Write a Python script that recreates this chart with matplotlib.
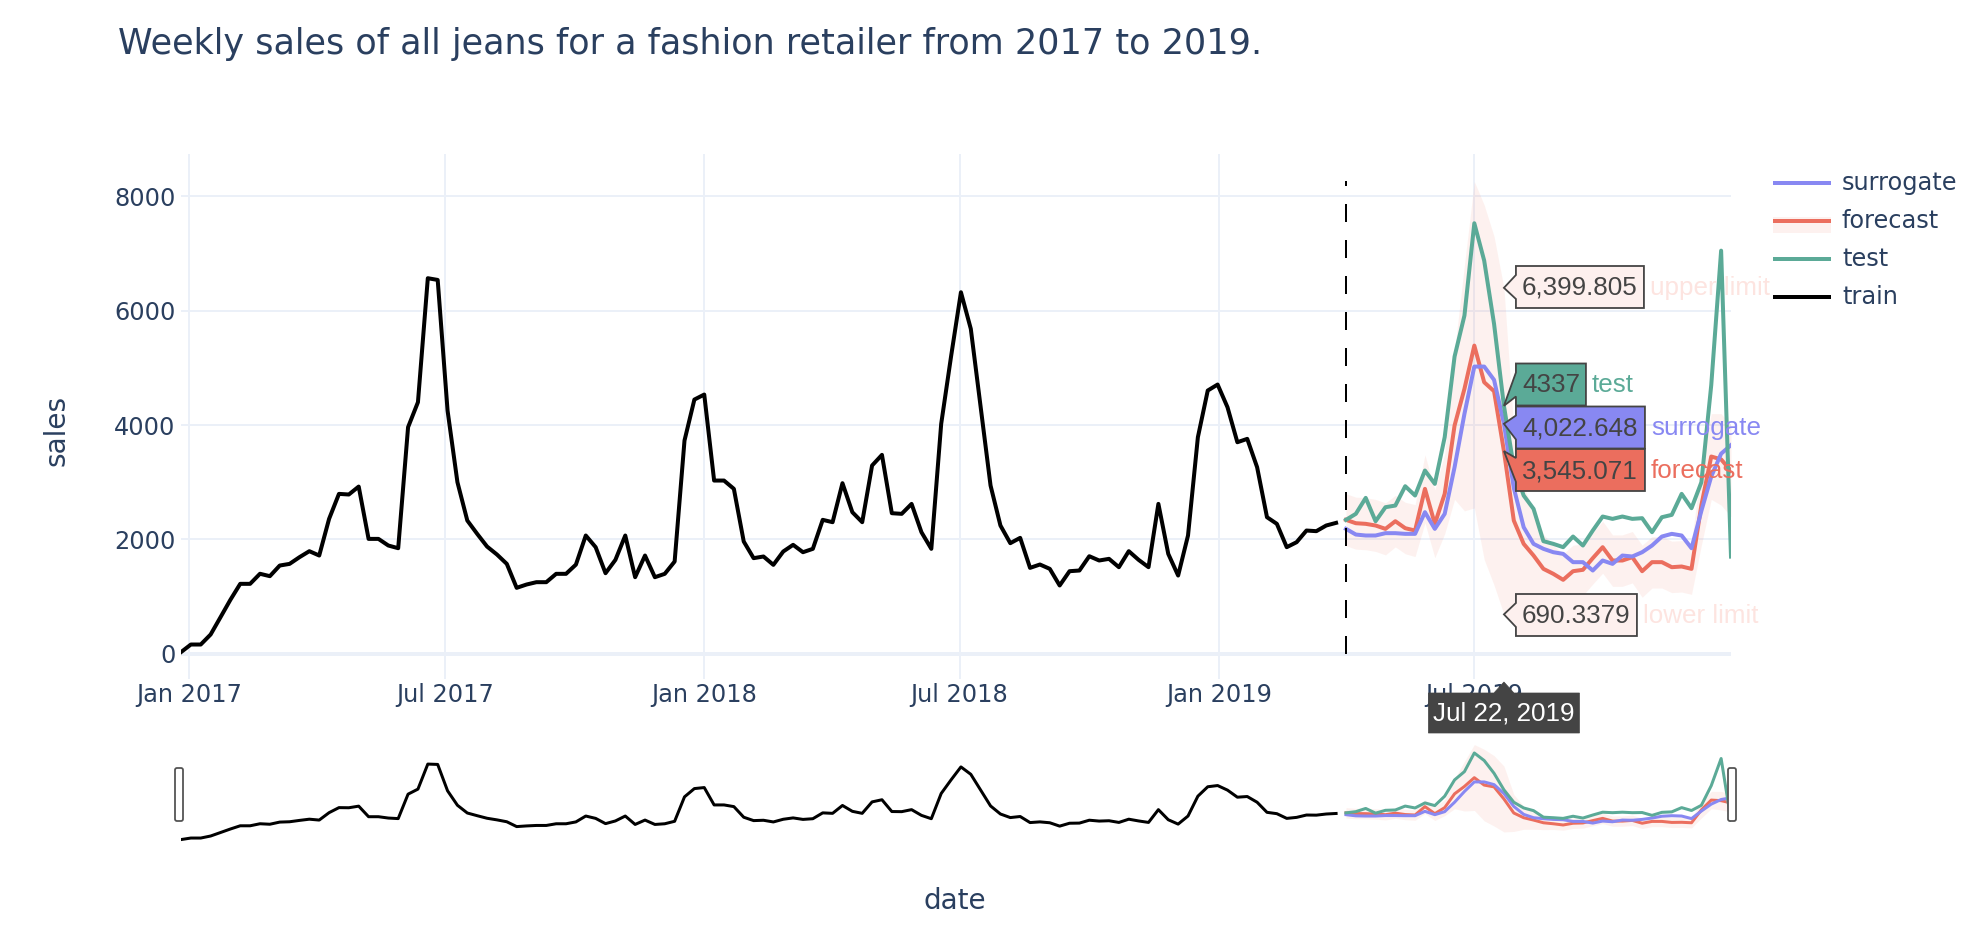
import numpy as np
import pandas as pd
import matplotlib
matplotlib.use('Agg')
import matplotlib.pyplot as plt
import matplotlib.dates as mdates
from matplotlib.patches import Polygon, Rectangle, FancyBboxPatch

plt.rcParams['font.family'] = ['DejaVu Sans']

W, H, DPI = 1984, 936, 100

# weekly sales, first week 2016-12-26
train_start = '2016-12-26'
train_sales = [30, 163, 163, 338, 640, 944, 1224, 1224, 1400, 1358,
               1544, 1573, 1690, 1795, 1719, 2360, 2797, 2786, 2925, 2010,
               2010, 1894, 1847, 3963, 4400, 6568, 6538, 4254, 3001, 2331,
               2098, 1876, 1737, 1573, 1154, 1212, 1253, 1253, 1399, 1399,
               1560, 2069, 1865, 1410, 1643, 2069, 1340, 1719, 1340, 1399,
               1614, 3730, 4446, 4534, 3030, 3030, 2885, 1964, 1673, 1702,
               1556, 1789, 1906, 1777, 1836, 2343, 2302, 2984, 2477, 2302,
               3293, 3479, 2459, 2448, 2622, 2127, 1836, 4021, 5200, 6323,
               5682, 4312, 2943, 2244, 1935, 2028, 1503, 1562, 1486, 1195,
               1445, 1457, 1707, 1632, 1661, 1515, 1795, 1643, 1515, 2622,
               1748, 1369, 2069, 3788, 4604, 4709, 4312, 3700, 3759, 3263,
               2389, 2273, 1865, 1952, 2156, 2145, 2244, 2290]

test_sales = [2343, 2448, 2727, 2319, 2564, 2593, 2931, 2768, 3205, 2972,
              3788, 5198, 5915, 7529, 6876, 5769, 4337, 3263, 2768, 2535,
              1970, 1923, 1865, 2051, 1894, 2156, 2401, 2360, 2401, 2360,
              2372, 2127, 2389, 2430, 2797, 2547, 3000, 4700, 7050, 1700]

surrogate = [2185, 2086, 2069, 2069, 2110, 2110, 2098, 2098, 2477, 2185,
             2448, 3263, 4196, 5023, 5023, 4790, 4022.648, 2900, 2214, 1923,
             1836, 1777, 1748, 1603, 1603, 1457, 1632, 1573, 1719, 1702,
             1777, 1894, 2051, 2098, 2069, 1847, 2500, 3100, 3500, 3650]

forecast = [2343, 2284, 2273, 2244, 2185, 2319, 2197, 2156, 2885, 2273,
            2797, 3992, 4633, 5390, 4749, 4592, 3545.071, 2331, 1923, 1719,
            1486, 1399, 1294, 1445, 1469, 1673, 1865, 1632, 1632, 1690,
            1445, 1603, 1603, 1515, 1527, 1486, 2600, 3450, 3400, 3200]

upper_limit = [2800, 2740, 2730, 2700, 2640, 2770, 2650, 2610, 3480, 2870,
               3500, 5300, 6800, 8260, 7850, 7300, 6399.805, 3930, 2920, 2520,
               2090, 1900, 1750, 1900, 1920, 2120, 2320, 2080, 2080, 2140,
               1900, 2050, 2050, 1970, 1980, 1940, 3300, 4200, 4200, 4000]

lower_limit = [1890, 1830, 1820, 1790, 1730, 1870, 1750, 1700, 2290, 1680,
               2100, 2700, 2500, 2550, 1650, 1200, 690.3379, 730, 920, 920,
               890, 900, 840, 990, 1020, 1220, 1410, 1180, 1180, 1240,
               990, 1150, 1150, 1070, 1080, 1040, 1900, 2700, 2600, 2400]

hover_idx = 16  # Jul 22, 2019 in the test period

train_dates = pd.date_range(train_start, periods=len(train_sales), freq='7D')
test_dates = pd.date_range(train_dates[-1] + pd.Timedelta(days=7), periods=len(test_sales), freq='7D')

c_text = '#2a3f5f'
c_grid = '#EBF0F8'
c_train = '#000000'
c_test = '#5BAA97'
c_sur = '#8888F2'
c_fc = '#EB6E5E'
c_fill = (0.937, 0.333, 0.231, 0.08)
c_limit_box = '#FDF0EE'
c_limit_txt = '#FDE4E0'

fig = plt.figure(figsize=(W / DPI, H / DPI), dpi=DPI)


def frame(l, t, r, b):
    return [l / W, 1 - b / H, (r - l) / W, (b - t) / H]


ax = fig.add_axes(frame(181, 154, 1731, 679))
sl = fig.add_axes(frame(181, 739, 1731, 845))
ov = fig.add_axes([0, 0, 1, 1])
ov.set_xlim(0, W)
ov.set_ylim(H, 0)
ov.axis('off')
ov.patch.set_visible(False)

px = 100 / 72  # pixels per point


def draw_series(a, lw):
    a.fill_between(test_dates, lower_limit, upper_limit, color=c_fill, lw=0, zorder=1)
    a.plot(test_dates, forecast, color=c_fc, lw=lw, zorder=2)
    a.plot(test_dates, surrogate, color=c_sur, lw=lw, zorder=3)
    a.plot(test_dates, test_sales, color=c_test, lw=lw, zorder=4)
    a.plot(train_dates, train_sales, color=c_train, lw=lw, zorder=5)
    a.set_xlim(train_dates[0], test_dates[-1])
    a.set_ylim(-440, 8740)


draw_series(ax, 4 / px)
draw_series(sl, 3 / px)
sl.axis('off')

ax.vlines(test_dates[0], 0, max(upper_limit), colors='black', lw=2 / px,
          linestyles=(0, (9, 9)), zorder=6)

for s in ax.spines.values():
    s.set_visible(False)
ax.set_axisbelow(True)
ax.set_yticks([0, 2000, 4000, 6000, 8000])
ax.set_yticklabels(['0', '2000', '4000', '6000', '8000'])
xt = pd.to_datetime(['2017-01-01', '2017-07-01', '2018-01-01', '2018-07-01', '2019-01-01', '2019-07-01'])
ax.set_xticks(xt)
ax.set_xticklabels([d.strftime('%b %Y') for d in xt])
ax.tick_params(length=0, labelsize=24 / px, labelcolor=c_text)
ax.tick_params(axis='y', pad=4)
ax.tick_params(axis='x', pad=3)
ax.grid(True, color=c_grid, lw=2 / px)
ax.axhline(0, color=c_grid, lw=4 / px, zorder=0.5)

# title, axis titles
ov.text(118, 44, 'Weekly sales of all jeans for a fashion retailer from 2017 to 2019.',
        fontsize=35 / px, color=c_text, va='center', ha='left')
ov.text(57, 430, 'sales', fontsize=28 / px, color=c_text, rotation=90, va='center', ha='center')
ov.text(955, 901, 'date', fontsize=28 / px, color=c_text, va='center', ha='center')

# legend
legend_items = [('surrogate', c_sur), ('forecast', c_fc), ('test', c_test), ('train', c_train)]
for n, (name, col) in enumerate(legend_items):
    yy = 183 + 38 * n
    if name == 'forecast':
        ov.add_patch(Rectangle((1773, yy - 4), 58, 16, color=c_fill, lw=0))
    ov.plot([1773, 1831], [yy, yy], color=col, lw=4 / px, solid_capstyle='butt')
    ov.text(1842, yy, name, fontsize=24 / px, color=c_text, va='center', ha='left')

# range slider handles
for hx in (179, 1732):
    ov.add_patch(FancyBboxPatch((hx - 4, 768), 8, 53, boxstyle='round,pad=0,rounding_size=2',
                                fc='white', ec='#555555', lw=1.3))

# hover labels at the hovered week
hdate = test_dates[hover_idx]


def to_px(d, v):
    dx, dy = ax.transData.transform((mdates.date2num(d), v))
    return dx, H - dy


hover_items = [
    (upper_limit[hover_idx], '{:,.3f}', 'upper limit', c_limit_box, c_limit_txt, 287, 128),
    (test_sales[hover_idx], '{:d}', 'test', c_test, c_test, 384.5, 70),
    (surrogate[hover_idx], '{:,.3f}', 'surrogate', c_sur, c_sur, 427.5, 129),
    (forecast[hover_idx], '{:,.3f}', 'forecast', c_fc, c_fc, 470, 129),
    (lower_limit[hover_idx], '{:,.4f}', 'lower limit', c_limit_box, c_limit_txt, 615, 121),
]
hfont = ['Liberation Sans', 'DejaVu Sans']
for val, fmt, name, fc, nc, cy, bw in hover_items:
    tx, ty = to_px(hdate, val)
    bl = tx + 12
    br = bl + bw
    bt, bb = cy - 21, cy + 21
    poly = [(tx, ty), (bl, cy + 12), (bl, bb), (br, bb), (br, bt), (bl, bt), (bl, cy - 12)]
    ov.add_patch(Polygon(poly, closed=True, fc=fc, ec='#444444', lw=1.3, zorder=10))
    ov.text(bl + 6, cy + 1, fmt.format(val), fontsize=26 / px, color='#444444',
            family=hfont, va='center', ha='left', zorder=11)
    ov.text(br + 6, cy + 1, name, fontsize=26 / px, color=nc,
            family=hfont, va='center', ha='left', zorder=11)

# date tooltip under the x axis (it covers the "Jul 2019" tick label, as in the source)
tx, _ = to_px(hdate, 0)
ov.add_patch(Polygon([(tx - 75.5, 693), (tx - 10, 693), (tx, 682), (tx + 10, 693),
                      (tx + 75.5, 693), (tx + 75.5, 733), (tx - 75.5, 733)],
                     closed=True, fc='#444444', ec='#444444', lw=0.5, zorder=10))
ov.text(tx, 714, hdate.strftime('%b %d, %Y').replace(' 0', ' '), fontsize=26 / px, color='white',
        family=hfont, va='center', ha='center', zorder=11)

fig.savefig('out.png', dpi=DPI)
